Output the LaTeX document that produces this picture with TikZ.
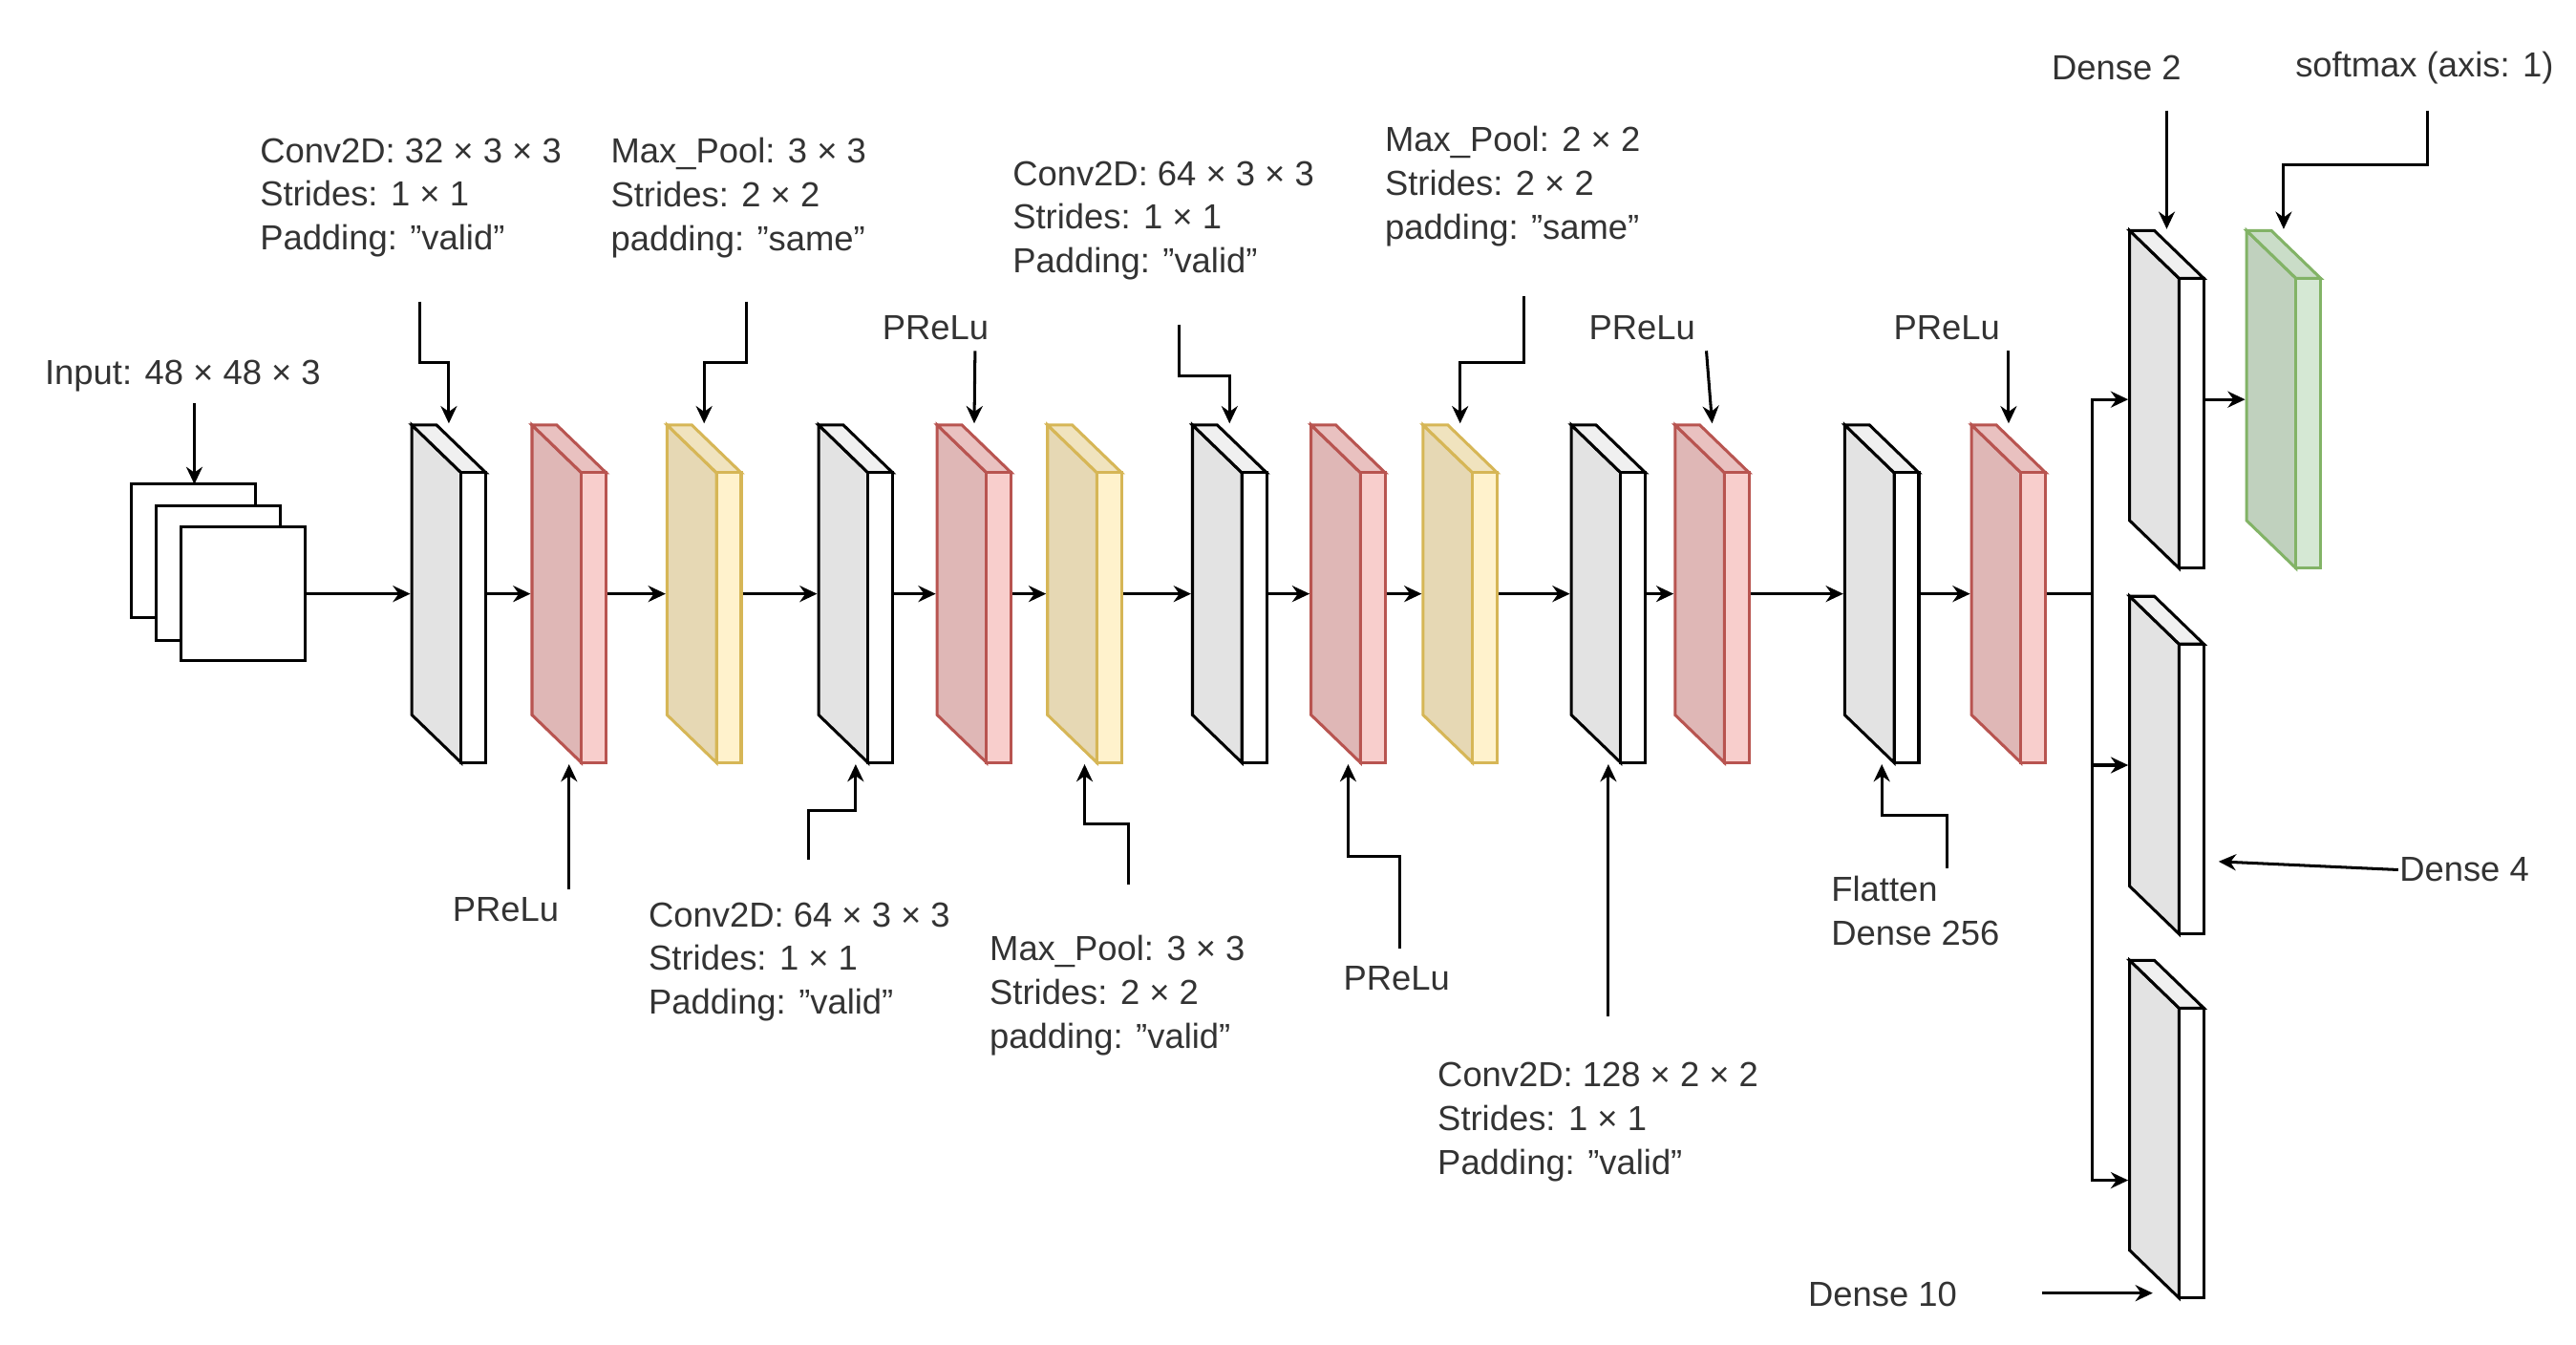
\documentclass[tikz,border=0pt]{standalone}
\usepackage{fontspec}
\setmainfont{Liberation Sans}
\usetikzlibrary{arrows.meta}

\definecolor{grydraw}{HTML}{000000}
\definecolor{gryside}{HTML}{E3E3E3}
\definecolor{grytop}{HTML}{F0F0F0}
\definecolor{gryfront}{HTML}{FFFFFF}
\definecolor{reddraw}{HTML}{B85450}
\definecolor{redside}{HTML}{DFB7B6}
\definecolor{redtop}{HTML}{E9C1C0}
\definecolor{redfront}{HTML}{F8CECC}
\definecolor{yeldraw}{HTML}{D6B656}
\definecolor{yelside}{HTML}{E6D8B4}
\definecolor{yeltop}{HTML}{F0E3BE}
\definecolor{yelfront}{HTML}{FFF2CC}
\definecolor{grndraw}{HTML}{82B366}
\definecolor{grnside}{HTML}{C0D1BE}
\definecolor{grntop}{HTML}{CADDC8}
\definecolor{grnfront}{HTML}{D5E8D4}

% one layer: name, x, top y, colour set
\newcommand\layer[4]{%
  \filldraw[draw=#4draw,fill=#4side] (#2,#3) -- (#2+30,#3+29) -- (#2+30,#3+205) -- (#2,#3+176) -- cycle;
  \filldraw[draw=#4draw,fill=#4top] (#2,#3) -- (#2+15,#3) -- (#2+45,#3+29) -- (#2+30,#3+29) -- cycle;
  \filldraw[draw=#4draw,fill=#4front] (#2+30,#3+29) rectangle (#2+45,#3+205);
  \node[box] (#1) at (#2+22.5,#3+102.5) {};
}

\tikzset{
  box/.style={inner sep=0pt, minimum width=0.45cm, minimum height=2.05cm},
  lbl/.style={font=\fontsize{6}{7.55}\selectfont, text=black!80, align=left, inner sep=0pt},
  arr/.style={-{Stealth[length=3pt,width=2.8pt]}},
}

\begin{document}
\begin{tikzpicture}[x=0.01cm, y=-0.01cm, line width=0.5pt]
  \useasboundingbox[fill=white] (0,0) rectangle (1564,816);

  % input
  \draw[fill=white] (80,294) rectangle (155,375);
  \draw[fill=white] (95,307) rectangle (170,389);
  \draw[fill=white] (110,320) rectangle (185,401);
  \node[inner sep=0pt, minimum width=0.75cm, minimum height=0.81cm] (in) at (147.5,360.5) {};
  \node[lbl] (inlbl) at (111,228) {Input: 48 × 48 × 3};
  \coordinate (inarr) at (118,245);
  \coordinate (intop) at (118,294);
  \draw[arr] (inarr) -- (intop);

  % main row
  \layer{g1}{250}{258}{gry}
  \layer{r1}{323}{258}{red}
  \layer{y1}{405}{258}{yel}
  \layer{g2}{497}{258}{gry}
  \layer{r2}{569}{258}{red}
  \layer{y2}{636}{258}{yel}
  \layer{g3}{724}{258}{gry}
  \layer{r3}{796}{258}{red}
  \layer{y3}{864}{258}{yel}
  \layer{g4}{954}{258}{gry}
  \layer{r4}{1017}{258}{red}
  \layer{g5}{1120}{258}{gry}
  \layer{r5}{1197}{258}{red}

  % heads
  \layer{d2}{1293}{140}{gry}
  \layer{sm}{1364}{140}{grn}
  \layer{d4}{1293}{362}{gry}
  \layer{d10}{1293}{583}{gry}

  \foreach \a/\b in {in/g1, g1/r1, r1/y1, y1/g2, g2/r2, r2/y2, y2/g3, g3/r3, r3/y3, y3/g4, g4/r4, r4/g5, g5/r5}
    \draw[arr] (\a.east) -- (\b.west);

  \coordinate (split) at (1270,360.5);
  \draw (r5.east) -- (split);
  \draw[arr] (split) |- (d2.west);
  \draw[arr] (split) |- (d4.west);
  \draw[arr] (split) |- ([yshift=-0.31cm]d10.west);
  \draw[arr] (d2.east) -- (sm.west);

  % labels above
  \node[lbl, anchor=north west] (c1lbl) at (157,83) {Conv2D: 32 × 3 × 3\\Strides: 1 × 1\\Padding: "valid"};
  \coordinate (c1) at (255,183);
  \draw[arr] (c1) -- ++(0,37) -| (g1.north);

  \node[lbl, anchor=north west] (p1lbl) at (370,83) {Max\_Pool: 3 × 3\\Strides: 2 × 2\\padding: "same"};
  \coordinate (p1) at (453,183);
  \draw[arr] (p1) -- ++(0,37) -| (y1.north);

  \node[lbl] (a2lbl) at (568,199) {PReLu};
  \coordinate (a2) at (592,213);
  \draw[arr] (a2) -- (r2.north);

  \node[lbl, anchor=north west] (c3lbl) at (614,97) {Conv2D: 64 × 3 × 3\\Strides: 1 × 1\\Padding: "valid"};
  \coordinate (c3) at (716,197);
  \draw[arr] (c3) -- ++(0,31) -| (g3.north);

  \node[lbl, anchor=north west] (p3lbl) at (840,76) {Max\_Pool: 2 × 2\\Strides: 2 × 2\\padding: "same"};
  \coordinate (p3) at (925,180);
  \draw[arr] (p3) -- ++(0,40) -| (y3.north);

  \node[lbl] (a4lbl) at (997,199) {PReLu};
  \coordinate (a4) at (1036,213);
  \draw[arr] (a4) -- (r4.north);

  \node[lbl] (a5lbl) at (1182,199) {PReLu};
  \coordinate (a5) at (1219.5,213);
  \draw[arr] (a5) -- (r5.north);

  \node[lbl] (d2lbl) at (1285,41) {Dense 2};
  \coordinate (d2a) at (1315.5,67);
  \draw[arr] (d2a) -- (d2.north);

  \node[lbl] (smlbl) at (1472,41) {softmax (axis: 1)};
  \coordinate (sma) at (1474,67);
  \draw[arr] (sma) -- ++(0,33) -| (sm.north);

  % labels below
  \node[lbl] (a1lbl) at (307,552) {PReLu};
  \coordinate (a1) at (345.5,540);
  \draw[arr] (a1) -- (r1.south);

  \node[lbl, anchor=north west] (c2lbl) at (393,547) {Conv2D: 64 × 3 × 3\\Strides: 1 × 1\\Padding: "valid"};
  \coordinate (c2) at (491,522);
  \draw[arr] (c2) -- ++(0,-30) -| (g2.south);

  \node[lbl, anchor=north west] (p2lbl) at (600,567) {Max\_Pool: 3 × 3\\Strides: 2 × 2\\padding: "valid"};
  \coordinate (p2) at (685,537);
  \draw[arr] (p2) -- ++(0,-37) -| (y2.south);

  \node[lbl] (a3lbl) at (848,594) {PReLu};
  \coordinate (a3) at (850,576);
  \draw[arr] (a3) -- ++(0,-56) -| (r3.south);

  \node[lbl, anchor=north west] (c4lbl) at (872,644) {Conv2D: 128 × 2 × 2\\Strides: 1 × 1\\Padding: "valid"};
  \coordinate (c4) at (976.5,617);
  \draw[arr] (c4) -- (g4.south);

  \node[lbl, anchor=north west] (fllbl) at (1111,531) {Flatten\\Dense 256};
  \coordinate (fl) at (1182,527);
  \draw[arr] (fl) -- ++(0,-32) -| (g5.south);

  \node[lbl, anchor=west] (d4lbl) at (1456,528) {Dense 4};
  \coordinate (d4in) at (1347,523);
  \draw[arr] (d4lbl.west) -- (d4in);

  \node[lbl] (d10lbl) at (1143,786) {Dense 10};
  \coordinate (d10a) at (1240,785);
  \coordinate (d10in) at (1307,785);
  \draw[arr] (d10a) -- (d10in);
\end{tikzpicture}
\end{document}
